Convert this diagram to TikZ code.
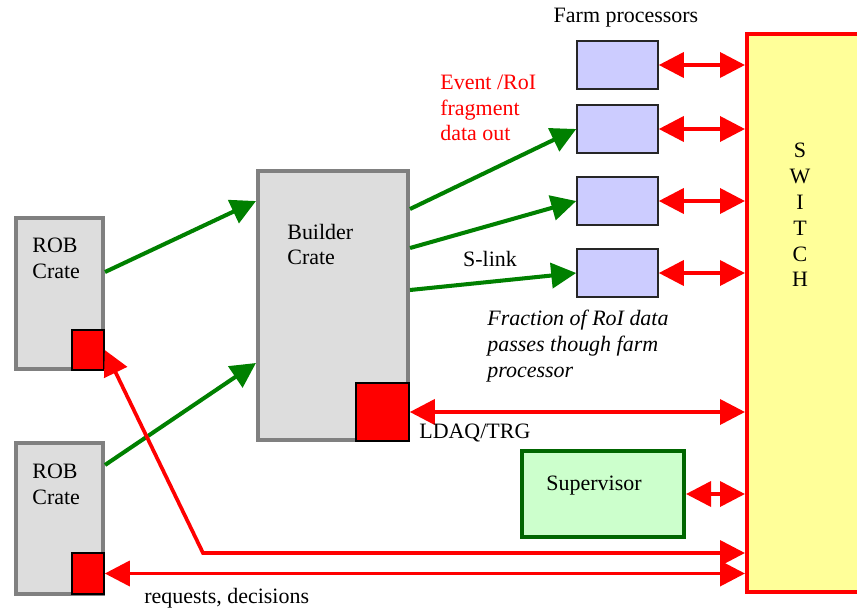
\documentclass[tikz,border=0pt]{standalone}
\usepackage{fontspec}
\setmainfont{LiberationSerif}[Extension=.ttf, UprightFont=*-Regular, ItalicFont=*-Italic, BoldFont=*-Bold]
\usetikzlibrary{arrows.meta, positioning}
\definecolor{cratefill}{RGB}{221,221,221}
\definecolor{crateline}{RGB}{128,128,128}
\definecolor{farmblue}{RGB}{204,204,255}
\definecolor{switchyellow}{RGB}{255,255,153}
\definecolor{supgreen}{RGB}{204,255,204}
\definecolor{darkgreen}{RGB}{0,102,0}
\definecolor{linkgreen}{RGB}{0,128,0}
\tikzset{
  crate/.style={rectangle, draw=crateline, fill=cratefill, line width=2.3pt, inner sep=0pt},
  port/.style={rectangle, draw=black, fill=red, line width=0.9pt, inner sep=0pt},
  farm/.style={rectangle, draw=black!85, fill=farmblue, line width=0.9pt, inner sep=0pt, minimum width=1.62cm, minimum height=0.96cm},
  slink/.style={-{Triangle[length=0.5cm,width=0.5cm]}, draw=linkgreen, line width=2.3pt},
  ctrl/.style={{Triangle[length=0.5cm,width=0.5cm]}-{Triangle[length=0.5cm,width=0.5cm]}, draw=red, line width=2.1pt},
  lbl/.style={font=\fontsize{12.5}{14.7}\selectfont, inner sep=0pt},
}

\begin{document}
\begin{tikzpicture}[x=0.02cm, y=-0.02cm]
\clip (0,0) rectangle (857,611);

% ROB crates
\node[crate, minimum width=1.74cm, minimum height=3.02cm] (rob1) at (59.5,293.5) {};
\node[port, minimum width=0.64cm, minimum height=0.8cm] (port1) at (88,350) {};
\node[lbl, align=left, anchor=west] (rob1lbl) at (32,258) {ROB\\Crate};
\node[crate, minimum width=1.74cm, minimum height=3.02cm] (rob2) at (59.5,518.5) {};
\node[port, minimum width=0.64cm, minimum height=0.82cm] (port2) at (88,573.5) {};
\node[lbl, align=left, anchor=west] (rob2lbl) at (32,484.5) {ROB\\Crate};

% Builder
\node[crate, minimum width=3cm, minimum height=5.38cm] (builder) at (333,305.5) {};
\node[port, minimum width=1.06cm, minimum height=1.16cm] (bport) at (382.5,412) {};
\node[lbl, align=left, anchor=west] (bldlbl) at (287,244.5) {Builder\\Crate};

% Switch
\node[rectangle, draw=red, fill=switchyellow, line width=2.3pt, minimum width=2.4cm, minimum height=11.16cm] (switch) at (807,313) {};
\node[lbl, align=center] (swlbl) at (800,215) {S\\W\\I\\T\\C\\H};

% Supervisor
\node[rectangle, draw=darkgreen, fill=supgreen, line width=2.3pt, minimum width=3.24cm, minimum height=1.72cm] (sup) at (603,494) {};
\node[lbl] (suplbl) at (594,486) {Supervisor};

% Farm processors
\node[lbl] (farmlbl) at (626,18) {Farm processors};
\foreach \y [count=\i] in {65,129,201,273} {
  \node[farm] (farm\i) at (617.5,\y) {};
  \draw[ctrl] (farm\i.east) -- (farm\i.east -| switch.west);
}

% S-links
\draw[slink] ([yshift=0.43cm]rob1.east) -- ([yshift=2.09cm]builder.west);
\draw[slink] ([yshift=1.07cm]rob2.east) -- ([yshift=-1.15cm]builder.west);
\draw[slink] ([yshift=1.93cm]builder.east) -- (farm2.west);
\draw[slink] ([yshift=1.15cm]builder.east) -- (farm3.west);
\draw[slink] ([yshift=0.31cm]builder.east) -- (farm4.west);

% control links to switch
\draw[ctrl] (bport.east) -- (bport.east -| switch.west);
\draw[ctrl] (sup.east) -- (sup.east -| switch.west);
\coordinate (bend) at (203,553);
\draw[ctrl] (port1.east) -- (bend) -- (bend -| switch.west);
\draw[ctrl] (port2.east) -- (port2.east -| switch.west);

% labels
\node[lbl, text=red, align=left, anchor=west] (evtlbl) at (440,108) {Event /RoI\\fragment\\data out};
\node[lbl] (slinklbl) at (490,259) {S-link};
\node[lbl, font=\fontsize{12.5}{14.7}\selectfont\itshape, align=left, anchor=west] (fraclbl) at (487,346) {Fraction of RoI data\\passes though farm\\processor};
\node[lbl, anchor=west] (ldaqlbl) at (419,433) {LDAQ/TRG};
\node[lbl, anchor=west] (reqlbl) at (144,598) {requests, decisions};
\end{tikzpicture}
\end{document}
